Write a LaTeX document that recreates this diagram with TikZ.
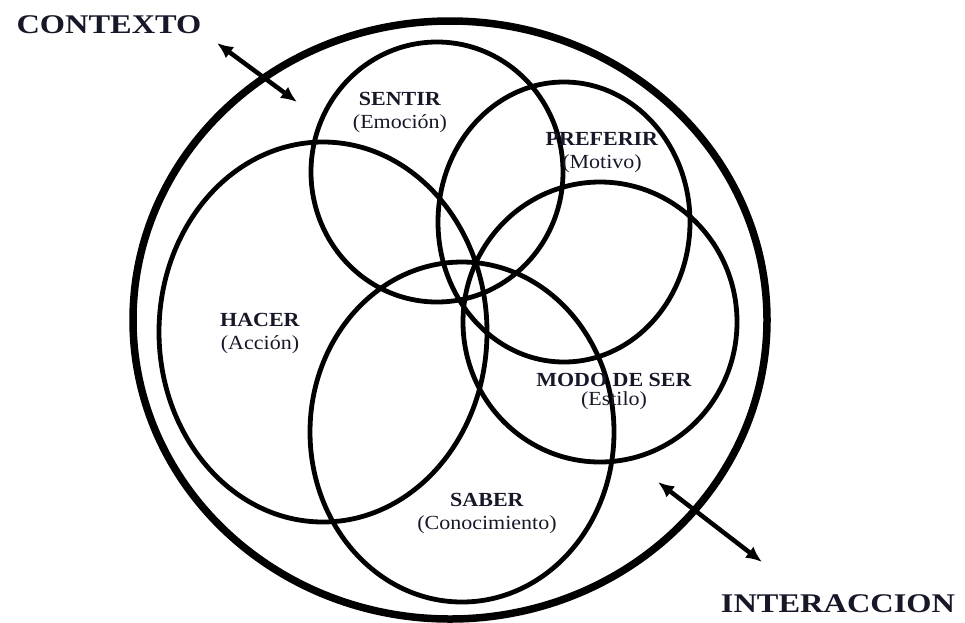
\documentclass[tikz,border=0pt]{standalone}
\usepackage{fontspec}
\setmainfont{Liberation Serif}
\newfontfamily\labelfont[FakeStretch=1.1]{Liberation Serif}
\newfontfamily\titlefont[FakeStretch=1.2]{Liberation Serif}
\usepackage{tikz}
\usetikzlibrary{arrows.meta,positioning}
\usepackage{xcolor}
\definecolor{inkdark}{RGB}{22,24,40}

\begin{document}
\begin{tikzpicture}[x=1pt,y=-1pt,
    ring/.style={line width=4.8pt},
    biglabel/.style={text=inkdark,inner sep=0pt,font=\titlefont\bfseries\fontsize{27}{30}\selectfont},
    circlelabel/.style={text=inkdark,align=center,inner sep=0pt,font=\labelfont\fontsize{20}{23}\selectfont},
    twoway/.style={{Latex[length=16pt,width=14pt]}-{Latex[length=16pt,width=14pt]},line width=4.5pt}]

    \useasboundingbox (0,0) rectangle (965,622);

    % Outer circle
    \draw[line width=7.5pt] (450,320) ellipse [x radius=317, y radius=299];

    % The five overlapping circles
    \draw[ring] (437,172) ellipse [x radius=126, y radius=130];
    \draw[ring] (564,222) ellipse [x radius=126, y radius=140];
    \draw[ring] (323,332) ellipse [x radius=164, y radius=190];
    \draw[ring] (600,322) ellipse [x radius=137, y radius=140];
    \draw[ring] (462,432) ellipse [x radius=152, y radius=170];

    % Labels inside
    \node[circlelabel] (sentir)   at (400,113) {\textbf{SENTIR}\\(Emoción)};
    \node[circlelabel] (preferir) at (602,153) {\textbf{PREFERIR}\\(Motivo)};
    \node[circlelabel] (hacer)    at (260,333) {\textbf{HACER}\\(Acción)};
    \node[circlelabel] (modo)     at (614,391) {\textbf{MODO DE SER}\\[-4pt](Estilo)};
    \node[circlelabel] (saber)    at (487,513) {\textbf{SABER}\\(Conocimiento)};

    % Context and interaction
    \node[biglabel] (contexto)    at (109,25)  {CONTEXTO};
    \node[biglabel] (interaccion) at (838,604) {INTERACCION};

    \coordinate (ctxout) at (217,43);
    \coordinate (ctxin)  at (297,102);
    \draw[twoway] (ctxout) -- (ctxin);

    \coordinate (intin)  at (658,482);
    \coordinate (intout) at (762,562);
    \draw[twoway] (intin) -- (intout);
\end{tikzpicture}
\end{document}
